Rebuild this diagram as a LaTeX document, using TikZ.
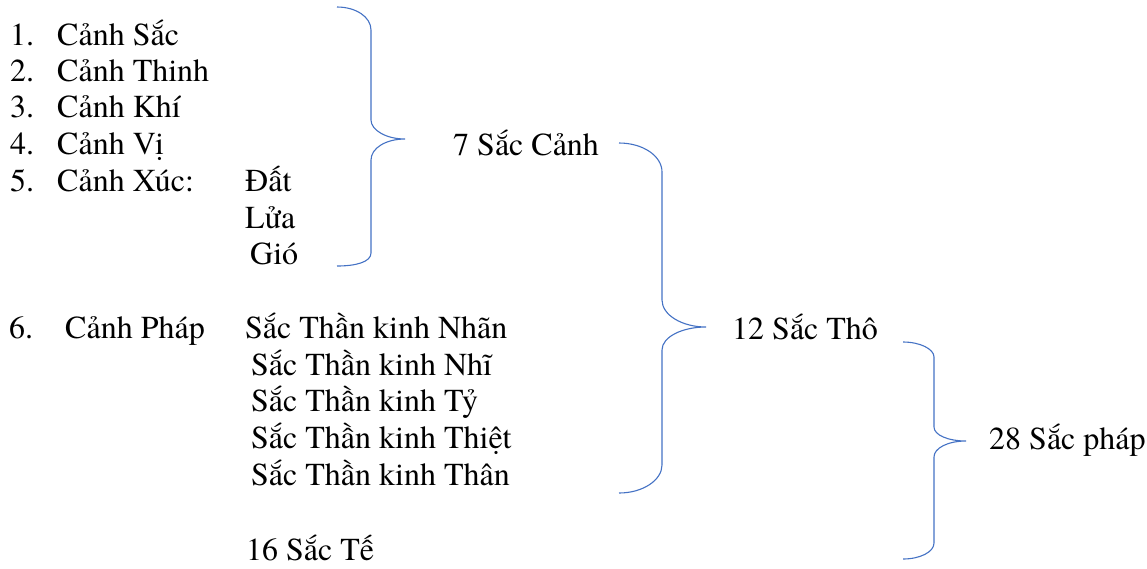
\documentclass[tikz,border=0pt]{standalone}
\usepackage{fontspec}
\setmainfont{texgyretermes}[Extension=.otf,UprightFont=*-regular,BoldFont=*-bold]
\usepackage{tikz}
\definecolor{wordblue}{HTML}{4472C4}

\begin{document}
\begin{tikzpicture}[x=1pt,y=-1pt,
    txt/.style={anchor=base west,inner sep=0pt,font=\fontsize{32}{36.7}\selectfont},
    brace/.style={wordblue,line width=1.1pt}]
    \useasboundingbox (0,0) rectangle (1147,568);
    % left list
    \node[txt] (n1) at (10,45) {1.};
    \node[txt] (c1) at (57,45) {Cảnh Sắc};
    \node[txt] (n2) at (10,81) {2.};
    \node[txt] (c2) at (57,81) {Cảnh Thinh};
    \node[txt] (n3) at (10,117) {3.};
    \node[txt] (c3) at (57,117) {Cảnh Khí};
    \node[txt] (n4) at (10,154) {4.};
    \node[txt] (c4) at (57,154) {Cảnh Vị};
    \node[txt] (n5) at (10,191) {5.};
    \node[txt] (c5) at (57,191) {Cảnh Xúc:};
    \node[txt] (dat) at (245,191) {Đất};
    \node[txt] (lua) at (245,228) {Lửa};
    \node[txt] (gio) at (250,264) {Gió};
    \node[txt] (n6) at (9,338) {6.};
    \node[txt] (c6) at (65,338) {Cảnh Pháp};
    \node[txt] (nhan) at (245,338) {Sắc Thần kinh Nhãn};
    \node[txt] (nhi) at (251,375) {Sắc Thần kinh Nhĩ};
    \node[txt] (ty) at (251,411) {Sắc Thần kinh Tỷ};
    \node[txt] (thiet) at (251,448) {Sắc Thần kinh Thiệt};
    \node[txt] (than) at (251,485) {Sắc Thần kinh Thân};
    \node[txt] (te) at (246,560) {16 Sắc Tế};
    % totals
    \node[txt] (canh) at (453,155) {7 Sắc Cảnh};
    \node[txt] (tho) at (732,339) {12 Sắc Thô};
    \node[txt] (phap) at (989,449) {28 Sắc pháp};
    % braces
    \draw[brace] (337,7) .. controls (356,7) and (371,17) .. (371,30) -- (371,120)
        .. controls (371,130) and (386,139) .. (405,139)
        .. controls (386,139) and (371,148) .. (371,160) -- (371,253)
        .. controls (371,262) and (356,266) .. (337,266);
    \draw[brace] (619,143) .. controls (643,143) and (662,156) .. (662,172) -- (662,300)
        .. controls (662,315) and (682,327) .. (706,327)
        .. controls (682,327) and (662,337) .. (662,350) -- (662,465)
        .. controls (662,480) and (643,493) .. (619,493);
    \draw[brace] (903,342) .. controls (920,342) and (934,349) .. (934,357) -- (934,427)
        .. controls (934,435) and (948,441) .. (966,441)
        .. controls (948,441) and (934,448) .. (934,457) -- (934,543)
        .. controls (934,552) and (920,559) .. (903,559);
\end{tikzpicture}
\end{document}
